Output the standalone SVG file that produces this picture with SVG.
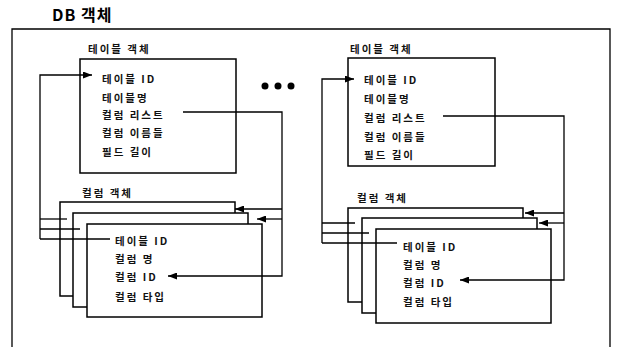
<svg xmlns="http://www.w3.org/2000/svg" width="617" height="347" viewBox="0 0 617 347">
<style>
.box{fill:#fff;stroke:#000;stroke-width:1.5}
.frame{fill:none;stroke:#000;stroke-width:1.3}
.t{font-family:"Noto Sans CJK KR","Noto Sans",sans-serif;font-size:10.5px;font-weight:bold;letter-spacing:2px;fill:#111}
.title{font-family:"Noto Sans CJK KR","Noto Sans",sans-serif;font-size:16px;font-weight:bold;letter-spacing:1px;fill:#000}
.c{fill:none;stroke:#000;stroke-width:1.3}
</style>
<defs>
<marker id="ah" markerWidth="9" markerHeight="7" refX="9" refY="3.5" orient="auto" markerUnits="userSpaceOnUse">
<path d="M0,0 L9,3.5 L0,7 Z" fill="#000"/>
</marker>
</defs>
<rect width="617" height="347" fill="#fff"/>
<g id="db-frame">
<text class="title" x="52" y="21">DB 객체</text>
<path class="frame" d="M12,347 V29 H610 V347"/>
</g>
<g id="ellipsis">
<circle cx="265" cy="86" r="3.5"/>
<circle cx="278" cy="86" r="3.5"/>
<circle cx="291" cy="86" r="3.5"/>
</g>
<g id="table-obj-left">
<text class="t" x="88" y="53">테이블 객체</text>
<rect class="box" x="80" y="59" width="156" height="114"/>
<text class="t" x="102" y="83">테이블 ID</text>
<text class="t" x="102" y="102">테이블명</text>
<text class="t" x="102" y="119">컬럼 리스트</text>
<text class="t" x="102" y="137">컬럼 이름들</text>
<text class="t" x="102" y="156">필드 길이</text>
</g>
<g id="column-obj-left">
<text class="t" x="82" y="197">컬럼 객체</text>
<rect class="box" x="60" y="202" width="175" height="94"/>
<rect class="box" x="73" y="213" width="175" height="94"/>
<rect class="box" x="87" y="224" width="175" height="93"/>
<text class="t" x="115" y="245">테이블 ID</text>
<text class="t" x="115" y="263">컬럼 명</text>
<text class="t" x="115" y="281">컬럼 ID</text>
<text class="t" x="115" y="301">컬럼 타입</text>
</g>
<g id="table-obj-right">
<text class="t" x="350" y="53">테이블 객체</text>
<rect class="box" x="348" y="58" width="147" height="108"/>
<text class="t" x="364" y="84">테이블 ID</text>
<text class="t" x="364" y="103">테이블명</text>
<text class="t" x="364" y="122">컬럼 리스트</text>
<text class="t" x="364" y="141">컬럼 이름들</text>
<text class="t" x="364" y="159">필드 길이</text>
</g>
<g id="column-obj-right">
<text class="t" x="357" y="202">컬럼 객체</text>
<rect class="box" x="348" y="208" width="175" height="94"/>
<rect class="box" x="362" y="218" width="175" height="95"/>
<rect class="box" x="376" y="229" width="175" height="94"/>
<text class="t" x="403" y="251">테이블 ID</text>
<text class="t" x="403" y="269">컬럼 명</text>
<text class="t" x="403" y="287">컬럼 ID</text>
<text class="t" x="403" y="306">컬럼 타입</text>
</g>
<g id="connectors">
<path class="c" d="M40,239 V75 H92" marker-end="url(#ah)"/>
<path class="c" d="M40,219 H67"/>
<path class="c" d="M40,229 H80"/>
<path class="c" d="M40,239 H110"/>
<path class="c" d="M183,112 H282 V276 H168" marker-end="url(#ah)"/>
<path class="c" d="M282,209 H235" marker-end="url(#ah)"/>
<path class="c" d="M282,219 H257" marker-end="url(#ah)"/>
<path class="c" d="M322,243 V79 H354" marker-end="url(#ah)"/>
<path class="c" d="M322,223 H355"/>
<path class="c" d="M322,233 H369"/>
<path class="c" d="M322,243 H397"/>
<path class="c" d="M443,116 H564 V280 H460" marker-end="url(#ah)"/>
<path class="c" d="M564,213 H525" marker-end="url(#ah)"/>
<path class="c" d="M564,223 H539" marker-end="url(#ah)"/>
</g>
</svg>
